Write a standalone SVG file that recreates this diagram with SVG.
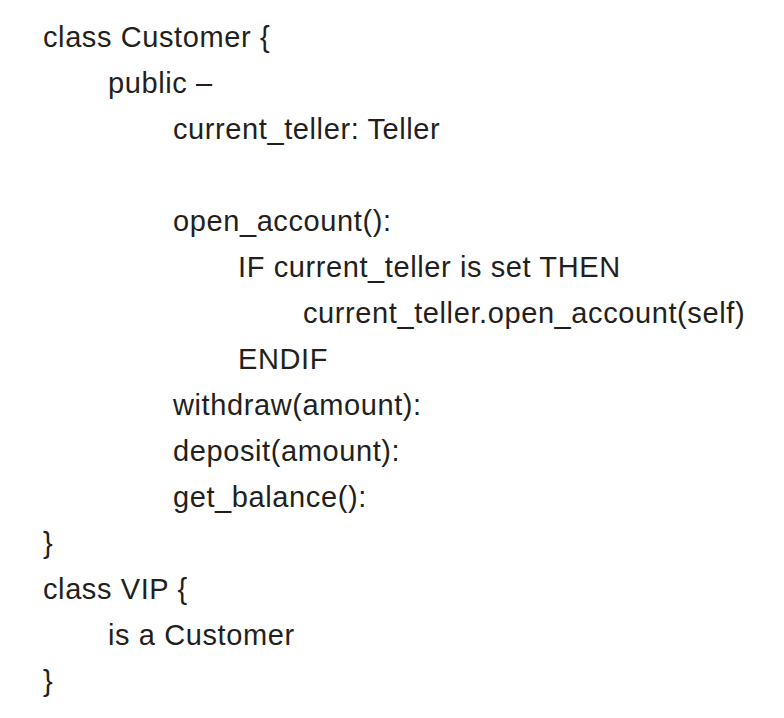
<svg xmlns="http://www.w3.org/2000/svg" width="784" height="718" viewBox="0 0 784 718">
<style>
text { font-family: "Liberation Sans", Arial, sans-serif; font-size: 29px; fill: #231f20; letter-spacing: 0.6px; }
</style>
<rect width="784" height="718" fill="#ffffff"/>
<g id="code">
<text x="43" y="47">class Customer {</text>
<text x="108" y="93">public –</text>
<text x="173" y="139">current_teller: Teller</text>
<text x="173" y="231">open_account():</text>
<text x="238" y="277">IF current_teller is set THEN</text>
<text x="303" y="323">current_teller.open_account(self)</text>
<text x="238" y="369">ENDIF</text>
<text x="173" y="415">withdraw(amount):</text>
<text x="173" y="461">deposit(amount):</text>
<text x="173" y="507">get_balance():</text>
<text x="43" y="553">}</text>
<text x="43" y="599">class VIP {</text>
<text x="108" y="645">is a Customer</text>
<text x="43" y="691">}</text>
</g>
</svg>
